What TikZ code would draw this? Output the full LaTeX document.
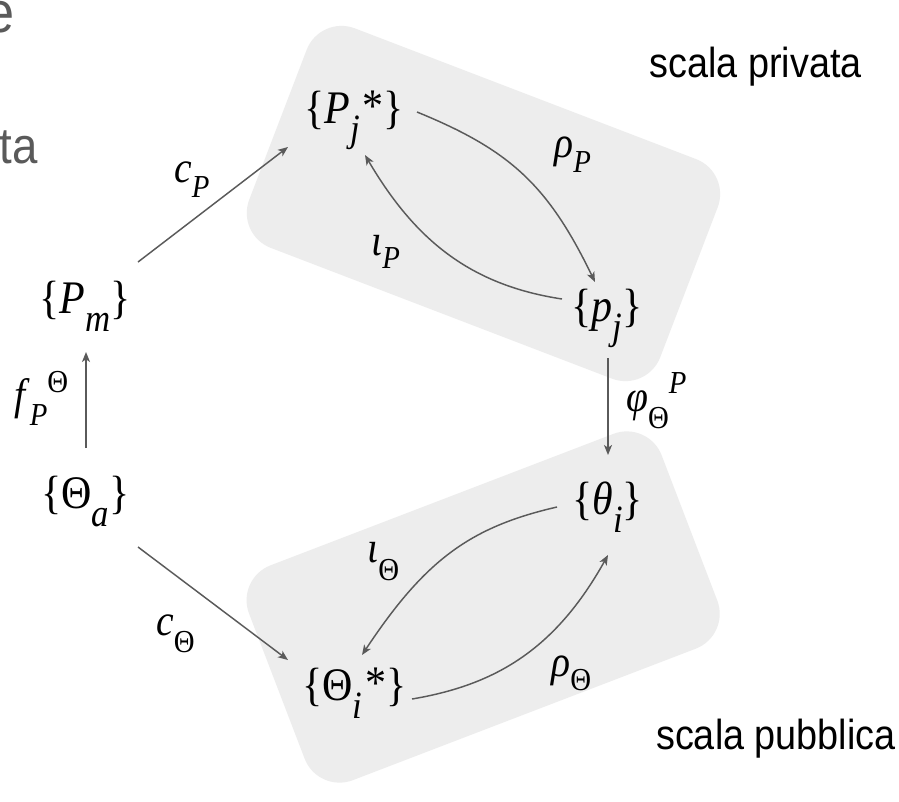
\documentclass[tikz,border=0pt]{standalone}
\usepackage{fontspec}
\usepackage{graphicx}
\usetikzlibrary{arrows.meta,calc}

% Times-like serif for the formulas, Arial-like sans for the captions
\newfontfamily\tmsfam[FakeStretch=0.9]{Liberation Serif}
\newfontfamily\arlfam[FakeStretch=0.9]{Liberation Sans}

\definecolor{zonegray}{RGB}{237,237,237}
\definecolor{arrowgray}{RGB}{90,90,90}
\definecolor{textgray}{RGB}{90,90,90}

\newcommand\setfont[1]{\fontsize{#1}{#1}\selectfont}
% subscripts / superscripts of the set symbols
\newcommand\nsub[1]{\raisebox{-13.5pt}{\setfont{29pt}\itshape #1}}
\newcommand\starmark{\kern2pt\raisebox{1.5pt}{*}}
% subscripts / superscripts of the arrow labels
\newcommand\lsub[2][11.5pt]{\raisebox{-#1}{\setfont{24pt}#2}}
\newcommand\lsup[2][13pt]{\raisebox{#1}{\setfont{24pt}#2}}

\begin{document}
\begin{tikzpicture}[x=0.75pt,y=-0.75pt,
  zone/.style={fill=zonegray, rounded corners=28pt},
  mnode/.style={anchor=base west, inner sep=0pt, font=\tmsfam\setfont{35pt}},
  mlabel/.style={anchor=base west, inner sep=0pt, font=\tmsfam\setfont{33pt}},
  caption/.style={anchor=base east, inner sep=0pt, font=\arlfam\setfont{31.5pt}},
  map/.style={draw=arrowgray, line width=1.1pt,
    -{Stealth[length=7.5pt,width=6pt,inset=2pt]}}]

\clip (0,0) rectangle (899,801);
\fill[white] (0,0) rectangle (899,801);

% the two scales
\fill[zone] (320,15) -- (731,172.5) -- (646.9,392) -- (235.9,234.5) -- cycle;
\fill[zone] (235.7,578.7) -- (648.3,420.5) -- (730.6,635.3) -- (318,793.5) -- cycle;

% leftover slide text
\node[caption, text=textgray, font=\arlfam\setfont{43.5pt}] (tite) at (15,32) {e};
\node[caption, text=textgray, font=\arlfam\setfont{38pt}] (titta) at (38,163) {ta};

% captions
\node[caption] (priv) at (862,77) {scala privata};
\node[caption] (pubb) at (896,749) {scala pubblica};

% sets
\node[mnode] (pj)  at (304,123) {\{\textit{P}\nsub{j}\starmark\}};
\node[mnode] (ppj) at (571,321) {\{\textit{p}\nsub{j}\}};
\node[mnode] (pm)  at (39,313)  {\{\textit{P}\nsub{m}\}};
\node[mnode] (ta)  at (41,508)  {\{Θ\nsub{a}\}};
\node[mnode] (th)  at (572,514) {\{\textit{θ}\nsub{i}\}};
\node[mnode] (ti)  at (302,700) {\{Θ\nsub{i}\starmark\}};

% maps
\node[mlabel] (lcp)  at (174,182) {\textit{c}\lsub{\textit{P}}};
\node[mlabel] (lrp)  at (554,157) {\textit{ρ}\lsub{\textit{P}}};
\node[mlabel] (lip)  at (371,255) {\textit{ι}\lsub[10pt]{\textit{P}}};
\node[mlabel] (lf)   at (14,409)  {\textit{f}\lsub[12pt]{\textit{P}}\lsup[12.75pt]{Θ}};
\node[mlabel] (lphi) at (626,411) {\textit{φ}\lsub[13pt]{Θ}\lsup[13.5pt]{\textit{P}}};
\node[mlabel] (lit)  at (367,562) {\textit{ι}\lsub[13.5pt]{Θ}};
\node[mlabel] (lrt)  at (551,676) {\textit{ρ}\lsub[10.5pt]{Θ}};
\node[mlabel] (lct)  at (156,635) {\textit{c}\lsub[13pt]{Θ}};

\draw[map] ($(pm.base west)+(99,-51)$) -- ($(pj.base west)+(-16,24)$);
\draw[map] ($(pj.base west)+(113,-11)$) .. controls (510,150) and (548,185) .. ($(ppj.base west)+(24,-39)$);
\draw[map] ($(ppj.base west)+(-9,-22)$) .. controls (470,285) and (415,240) .. ($(pj.base west)+(61,32)$);
\draw[map] ($(ppj.base west)+(37,37)$) -- ($(th.base west)+(36,-59)$);
\draw[map] ($(ta.base west)+(45,-60)$) -- ($(pm.base west)+(47,39)$);
\draw[map] ($(ta.base west)+(97,39)$) -- ($(ti.base west)+(-14,-40)$);
\draw[map] ($(th.base west)+(-15,-7)$) .. controls (470,527) and (425,560) .. ($(ti.base west)+(60,-45)$);
\draw[map] ($(ti.base west)+(110,-1)$) .. controls (495,685) and (555,650) .. ($(th.base west)+(36,41)$);
\end{tikzpicture}
\end{document}
